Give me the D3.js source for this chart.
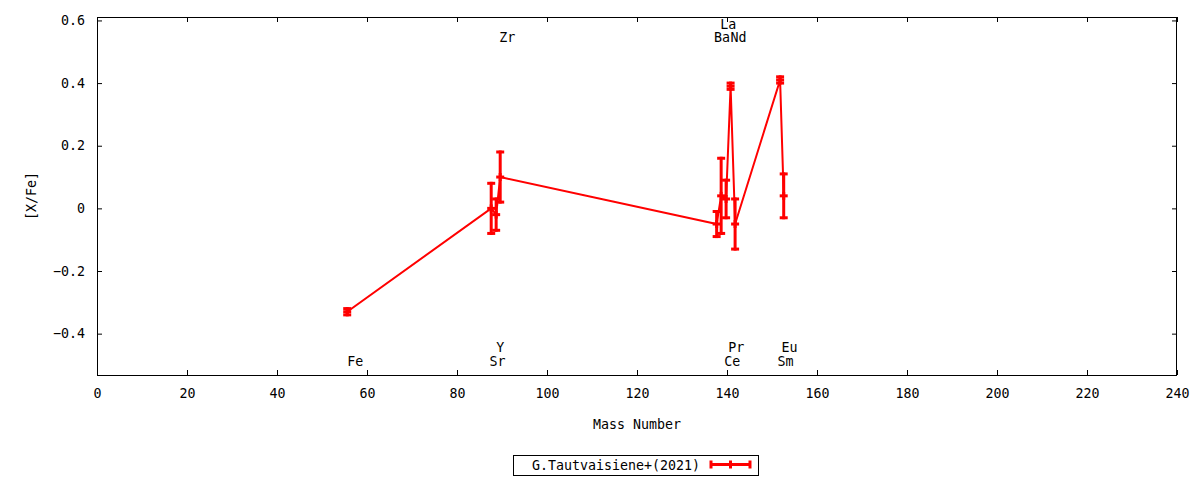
<!DOCTYPE html>
<html>
<head>
<meta charset="utf-8">
<script src="https://cdn.jsdelivr.net/npm/d3@7"></script>
<style>
  body { margin: 0; background: #fff; }
  svg text { font-family: "DejaVu Sans Mono", monospace; font-size: 13.3px; fill: #000; }
</style>
</head>
<body>
<svg id="chart"></svg>
<script>
// abundances
const elements = ["Fe", "Sr", "Y", "Zr", "Ba", "La", "Ce", "Pr", "Nd", "Eu", "Sm"];
const massNumber = [55.6, 87.6, 88.7, 89.6, 137.7, 138.7, 139.8, 140.8, 141.8, 151.8, 152.6];
const xFe = [-0.33, 0.00, -0.02, 0.10, -0.05, 0.04, 0.03, 0.39, -0.05, 0.41, 0.04];
const xFeErr = [0.01, 0.08, 0.05, 0.08, 0.04, 0.12, 0.06, 0.01, 0.08, 0.01, 0.07];

// element labels (gnuplot "set label ... at x,y")
const labelText = ["Fe", "Sr", "Y", "Zr", "Ba", "La", "Nd", "Ce", "Pr", "Sm", "Eu"];
const labelX = [55.6, 87.2, 88.7, 89.4, 137.1, 138.5, 140.8, 139.4, 140.3, 151.2, 152.1];
const labelY = [-0.492, -0.492, -0.447, 0.544, 0.544, 0.586, 0.544, -0.492, -0.447, -0.492, -0.447];

const xTicks = [0, 20, 40, 60, 80, 100, 120, 140, 160, 180, 200, 220, 240];
const yTicks = [-0.4, -0.2, 0, 0.2, 0.4, 0.6];
const seriesName = "G.Tautvaisiene+(2021)";

let width = 1200;
let height = 480;
let marginLeft = 97, marginRight = 1177, marginTop = 17, marginBottom = 375;
let red = "#ff0000";

let svg = d3.select("#chart")
  .attr("width", width)
  .attr("height", height);

let scaleX = d3.scaleLinear().domain([0, 240]).range([marginLeft, marginRight]);
let scaleY = d3.scaleLinear().domain([-0.532, 0.611]).range([marginBottom, marginTop]);

// axes with inward, mirrored ticks
let axisBottom = d3.axisBottom(scaleX).tickValues(xTicks).tickSize(-5).tickPadding(14).tickFormat(d3.format("d"));
let axisTop = d3.axisTop(scaleX).tickValues(xTicks).tickSize(-5).tickFormat("");
let axisLeft = d3.axisLeft(scaleY).tickValues(yTicks).tickSize(-5).tickPadding(12).tickFormat(d => d === 0 ? "0" : d3.format(".1f")(d));
let axisRight = d3.axisRight(scaleY).tickValues(yTicks).tickSize(-5).tickFormat("");

function styleAxis(g) {
  g.selectAll("path").remove();
  g.selectAll("line").attr("stroke", "#000");
  g.selectAll("text").attr("fill", "#000").style("font-family", "DejaVu Sans Mono, monospace").style("font-size", "13.3px");
}

svg.append("g").attr("transform", `translate(0, ${marginBottom})`).call(axisBottom).call(styleAxis);
svg.append("g").attr("transform", `translate(0, ${marginTop})`).call(axisTop).call(styleAxis);
svg.append("g").attr("transform", `translate(${marginLeft}, 0)`).call(axisLeft).call(styleAxis);
svg.append("g").attr("transform", `translate(${marginRight}, 0)`).call(axisRight).call(styleAxis);

svg.append("rect")
  .attr("x", marginLeft + 0.5)
  .attr("y", marginTop + 0.5)
  .attr("width", marginRight - marginLeft - 1)
  .attr("height", marginBottom - marginTop)
  .attr("fill", "none")
  .attr("stroke", "#000")
  .attr("stroke-width", 1);

// axis titles
svg.append("text")
  .attr("x", (marginLeft + marginRight) / 2)
  .attr("y", 425)
  .attr("text-anchor", "middle")
  .attr("dominant-baseline", "middle")
  .text("Mass Number");

svg.append("text")
  .attr("transform", `translate(32, ${(marginTop + marginBottom) / 2}) rotate(-90)`)
  .attr("text-anchor", "middle")
  .attr("dominant-baseline", "middle")
  .text("[X/Fe]");

// element labels
svg.selectAll(".elabel")
  .data(labelText)
  .enter()
  .append("text")
  .attr("class", "elabel")
  .attr("x", (d, i) => scaleX(labelX[i]))
  .attr("y", (d, i) => scaleY(labelY[i]))
  .attr("dominant-baseline", "middle")
  .text(d => d);

let points = elements.map((name, i) => ({ name: name, x: massNumber[i], y: xFe[i], e: xFeErr[i] }));

// connecting line
let line = d3.line().x(d => scaleX(d.x)).y(d => scaleY(d.y));
svg.append("path")
  .datum(points)
  .attr("d", line)
  .attr("fill", "none")
  .attr("stroke", red)
  .attr("stroke-width", 2);

// error bars
let bars = svg.append("g").attr("stroke", red).attr("stroke-width", 3);
let cap = 4;
points.forEach(function(d) {
  let cx = scaleX(d.x);
  let y1 = scaleY(d.y + d.e), y0 = scaleY(d.y - d.e), yc = scaleY(d.y);
  bars.append("line").attr("x1", cx).attr("x2", cx).attr("y1", y1 - 1.5).attr("y2", y0 + 1.5);
  bars.append("line").attr("x1", cx - cap).attr("x2", cx + cap).attr("y1", y1).attr("y2", y1);
  bars.append("line").attr("x1", cx - cap).attr("x2", cx + cap).attr("y1", y0).attr("y2", y0);
  // point marker (+)
  bars.append("line").attr("x1", cx - cap).attr("x2", cx + cap).attr("y1", yc).attr("y2", yc);
  bars.append("line").attr("x1", cx).attr("x2", cx).attr("y1", yc - cap).attr("y2", yc + cap);
});

// legend
let legend = svg.append("g");
legend.append("rect")
  .attr("x", 513.5)
  .attr("y", 455.5)
  .attr("width", 245)
  .attr("height", 20)
  .attr("fill", "#fff")
  .attr("stroke", "#000");
legend.append("text")
  .attr("x", 700)
  .attr("y", 465.5)
  .attr("text-anchor", "end")
  .attr("dominant-baseline", "middle")
  .text(seriesName);
let lg = legend.append("g").attr("stroke", red).attr("stroke-width", 3);
lg.append("line").attr("x1", 710).attr("x2", 751).attr("y1", 464.5).attr("y2", 464.5);
lg.append("line").attr("x1", 711).attr("x2", 711).attr("y1", 460.5).attr("y2", 468.5);
lg.append("line").attr("x1", 750).attr("x2", 750).attr("y1", 460.5).attr("y2", 468.5);
lg.append("line").attr("x1", 730.5).attr("x2", 730.5).attr("y1", 460.5).attr("y2", 468.5);
</script>
</body>
</html>
